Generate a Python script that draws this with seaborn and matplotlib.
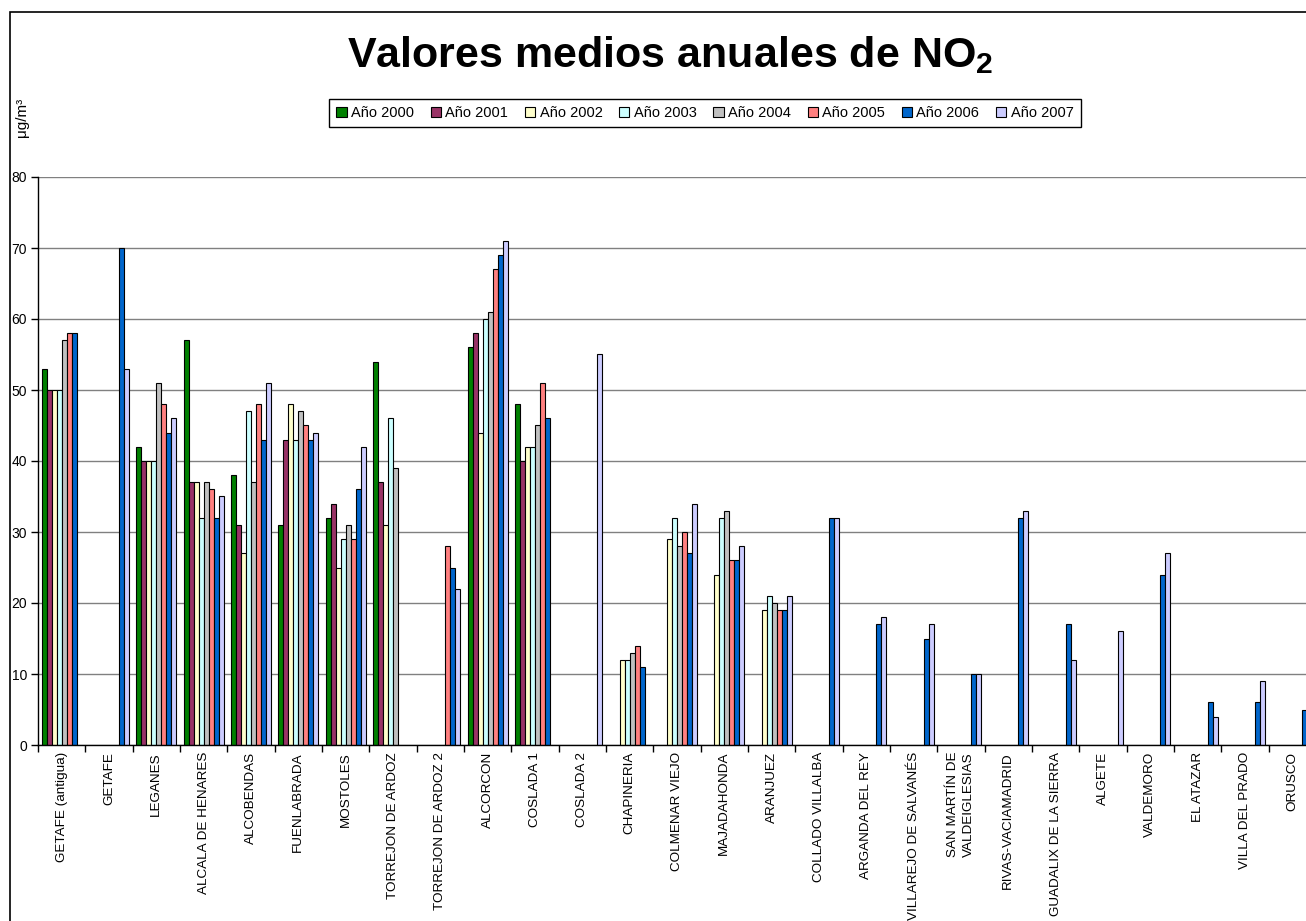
import numpy as np
import pandas as pd
import matplotlib
matplotlib.use('Agg')
import matplotlib.pyplot as plt
from matplotlib.patches import Rectangle
import seaborn as sns

n = np.nan

estaciones = ['GETAFE (antigua)', 'GETAFE', 'LEGANES', 'ALCALA DE HENARES', 'ALCOBENDAS',
              'FUENLABRADA', 'MOSTOLES', 'TORREJON DE ARDOZ', 'TORREJON DE ARDOZ 2', 'ALCORCON',
              'COSLADA 1', 'COSLADA 2', 'CHAPINERIA', 'COLMENAR VIEJO', 'MAJADAHONDA',
              'ARANJUEZ', 'COLLADO VILLALBA', 'ARGANDA DEL REY', 'VILLAREJO DE SALVANÉS',
              'SAN MARTÍN DE\nVALDEIGLESIAS', 'RIVAS-VACIAMADRID', 'GUADALIX DE LA SIERRA',
              'ALGETE', 'VALDEMORO', 'EL ATAZAR', 'VILLA DEL PRADO', 'ORUSCO']
anios = ['Año 2000', 'Año 2001', 'Año 2002', 'Año 2003',
         'Año 2004', 'Año 2005', 'Año 2006', 'Año 2007']

# valores medios anuales (ug/m3) por estacion
v2000 = [53, n, 42, 57, 38, 31, 32, 54, n, 56, 48, n, n, n, n, n, n, n, n, n, n, n, n, n, n, n, n]
v2001 = [50, n, 40, 37, 31, 43, 34, 37, n, 58, 40, n, n, n, n, n, n, n, n, n, n, n, n, n, n, n, n]
v2002 = [50, n, 40, 37, 27, 48, 25, 31, n, 44, 42, n, 12, 29, 24, 19, n, n, n, n, n, n, n, n, n, n, n]
v2003 = [50, n, 40, 32, 47, 43, 29, 46, n, 60, 42, n, 12, 32, 32, 21, n, n, n, n, n, n, n, n, n, n, n]
v2004 = [57, n, 51, 37, 37, 47, 31, 39, n, 61, 45, n, 13, 28, 33, 20, n, n, n, n, n, n, n, n, n, n, n]
v2005 = [58, n, 48, 36, 48, 45, 29, n, 28, 67, 51, n, 14, 30, 26, 19, n, n, n, n, n, n, n, n, n, n, n]
v2006 = [58, 70, 44, 32, 43, 43, 36, n, 25, 69, 46, n, 11, 27, 26, 19, 32, 17, 15, 10, 32, 17, n, 24, 6, 6, 5]
v2007 = [n, 53, 46, 35, 51, 44, 42, n, 22, 71, n, 55, n, 34, 28, 21, 32, 18, 17, 10, 33, 12, 16, 27, 4, 9, n]

colores = ['#008000', '#993366', '#FFFFCC', '#CCFFFF', '#C0C0C0', '#FF8080', '#0066CC', '#CCCCFF']

wide = pd.DataFrame({'estacion': estaciones,
                     anios[0]: v2000, anios[1]: v2001, anios[2]: v2002, anios[3]: v2003,
                     anios[4]: v2004, anios[5]: v2005, anios[6]: v2006, anios[7]: v2007})
data_df = wide.melt(id_vars='estacion', var_name='anio', value_name='no2').dropna()

sns.set_style('white')
plt.rcParams['font.family'] = ['Liberation Sans', 'DejaVu Sans']
plt.rcParams['mathtext.fontset'] = 'custom'
plt.rcParams['mathtext.bf'] = 'Liberation Sans:bold'
plt.rcParams['mathtext.rm'] = 'Liberation Sans'
for k in ['text.color', 'axes.labelcolor', 'xtick.color', 'ytick.color']:
    plt.rcParams[k] = 'black'

fig = plt.figure(figsize=(13.06, 9.21), dpi=100)
# plot area runs a bit past the right edge, like the original
ax = fig.add_axes([38 / 1306, 176 / 921, 1278 / 1306, 568 / 921])

sns.barplot(data=data_df, x='estacion', y='no2', hue='anio', order=estaciones,
            hue_order=anios, palette=colores, saturation=1, width=0.85,
            edgecolor='black', linewidth=0.8, errorbar=None, ax=ax)

ax.set_xlim(-0.5, len(estaciones) - 0.5)
ax.set_ylim(0, 80)
ax.set_yticks(range(0, 81, 10))
ax.yaxis.grid(True, color='#808080', linewidth=1)
ax.xaxis.grid(False)
ax.set_axisbelow(True)
ax.set_xlabel('')
ax.set_ylabel('')

for s in ['top', 'right']:
    ax.spines[s].set_visible(False)
for s in ['left', 'bottom']:
    ax.spines[s].set_color('black')
    ax.spines[s].set_linewidth(1)

ax.set_xticks(range(len(estaciones)))
ax.set_xticklabels(estaciones, rotation=90, fontsize=9.7, va='top', ha='center')
for lbl in ax.get_xticklabels():
    lbl.set_linespacing(1.45)
ax.set_xticks(np.arange(-0.5, len(estaciones)), minor=True)
ax.tick_params(axis='x', which='major', length=0, pad=5)
ax.tick_params(axis='x', which='minor', length=5, width=1, color='black', direction='out')
ax.tick_params(axis='y', length=5, width=1, color='black', direction='out', labelsize=10, pad=3)
ax.tick_params(left=True, bottom=True, which='both')

leg = ax.get_legend()
if leg is not None:
    leg.remove()
ax.legend(loc='center', bbox_to_anchor=(705 / 1306, 1 - 113 / 921),
          bbox_transform=fig.transFigure, ncol=8, fontsize=10.5, frameon=True,
          fancybox=False, edgecolor='black', framealpha=1, handlelength=0.7,
          handleheight=0.7, handletextpad=0.3, columnspacing=1.15, borderpad=0.5)

fig.text(670 / 1306, 1 - 55 / 921, r'Valores medios anuales de NO$_\mathbf{2}$',
         fontsize=31, fontweight='bold', ha='center', va='center')
fig.text(22 / 1306, 1 - 117 / 921, 'μg/m³', rotation=90, fontsize=11,
         ha='center', va='center')

fig.add_artist(Rectangle((10 / 1306, -0.1), 1.2, 1.1 - 12 / 921, transform=fig.transFigure,
                         fill=False, edgecolor='black', linewidth=1.2))

fig.savefig('out.png', dpi=100)
